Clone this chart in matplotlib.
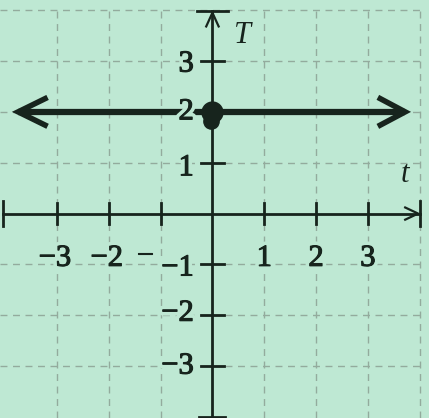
import matplotlib
matplotlib.use("Agg")
from matplotlib import pyplot as plt
from matplotlib import patheffects as pe

# constant function T = 2, drawn as a full line with a point on the T-axis
t_ticks = [-3, -2, -1, 1, 2, 3]
T_ticks = [-3, -2, -1, 1, 2, 3]
t_labels = ["\u22123", "\u22122", "\u2212", "1", "2", "3"]
T_labels = ["\u22123", "\u22122", "\u22121", "1", "2", "3"]
grid_t = [-3, -2, -1, 1, 2, 3, 4]
grid_T = [-3, -2, -1, 1, 2, 3, 4]
T_const = 2
line_t = [-3.75, 3.72]
point_t, point_T = 0, 2

bg = "#bee8d3"
ink = "#17241d"
halo = [pe.withStroke(linewidth=6, foreground=bg),
        pe.withStroke(linewidth=0.8, foreground=ink)]
font = dict(family="Liberation Serif", color=ink, fontsize=22)

fig = plt.figure(figsize=(4.29, 4.18), dpi=100, facecolor=bg)
ax = fig.add_axes([0, 0, 1, 1])
ax.set_facecolor(bg)
ax.set_xlim(-4.10, 4.18)
ax.set_ylim(-4.02, 4.20)
ax.axis("off")

# dashed grid
for g in grid_t:
    ax.plot([g, g], [-4.02, 4.0], color="#93ab9d", lw=1.0, ls=(0, (5, 4)), zorder=1)
for g in grid_T:
    ax.plot([-4.1, 4.0], [g, g], color="#93ab9d", lw=1.0, ls=(0, (5, 4)), zorder=1)

# t-axis with end bars and arrow
ax.plot([-4.04, 4.0], [0, 0], color=ink, lw=2.0, zorder=3)
ax.plot([-4.04, -4.04], [-0.25, 0.25], color=ink, lw=2.0, zorder=3)
ax.plot([4.0, 4.0], [-0.25, 0.25], color=ink, lw=2.0, zorder=3)
ax.plot([3.72, 3.97, 3.72], [0.12, 0.0, -0.12], color=ink, lw=1.6, zorder=3)
for t in t_ticks:
    ax.plot([t, t], [-0.2, 0.2], color=ink, lw=2.0, zorder=3)

# T-axis with end bars and arrow
ax.plot([0, 0], [-4.0, 3.98], color=ink, lw=2.0, zorder=3)
ax.plot([-0.3, 0.3], [3.98, 3.98], color=ink, lw=2.0, zorder=3)
ax.plot([-0.25, 0.25], [-4.0, -4.0], color=ink, lw=2.0, zorder=3)
ax.plot([-0.12, 0.0, 0.12], [3.68, 3.95, 3.68], color=ink, lw=1.6, zorder=3)
for T in T_ticks:
    ax.plot([-0.23, 0.23], [T, T], color=ink, lw=2.0, zorder=3)

# tick labels
t_label_x = [-3.04, -2.04, -1.30, 1.0, 2.0, 3.0]
t_label_y = [-0.88, -0.88, -0.84, -0.88, -0.88, -0.88]
for x, y, s in zip(t_label_x, t_label_y, t_labels):
    ax.text(x, y, s, ha="center", va="center", zorder=7, path_effects=halo, **font)
T_label_y = [-3.0, -1.96, -1.07, 0.90, 2.0, 2.94]
for y, s in zip(T_label_y, T_labels):
    ax.text(-0.36, y, s, ha="right", va="center", zorder=7, path_effects=halo, **font)

ax.text(0.59, 3.51, "T", ha="center", va="center", style="italic", **font)
ax.text(3.72, 0.76, "t", ha="center", va="center", style="italic", **font)

# the graph: T = 2 for every t, with arrowheads at both ends
ax.plot(line_t, [T_const, T_const], color=ink, lw=4.5, zorder=5, solid_capstyle="butt")
tip_l, tip_r = line_t
ax.plot([tip_l + 0.52, tip_l, tip_l + 0.52], [T_const + 0.26, T_const, T_const - 0.26],
        color=ink, lw=4.0, zorder=5, solid_joinstyle="miter")
ax.plot([tip_r - 0.48, tip_r, tip_r - 0.48], [T_const + 0.26, T_const, T_const - 0.26],
        color=ink, lw=4.0, zorder=5, solid_joinstyle="miter")
ax.plot([point_t], [point_T], "o", color=ink, ms=15, zorder=8)
ax.plot([point_t - 0.03], [point_T - 0.18], "o", color=ink, ms=11, zorder=8)

fig.savefig("out.png", dpi=100, facecolor=bg)
